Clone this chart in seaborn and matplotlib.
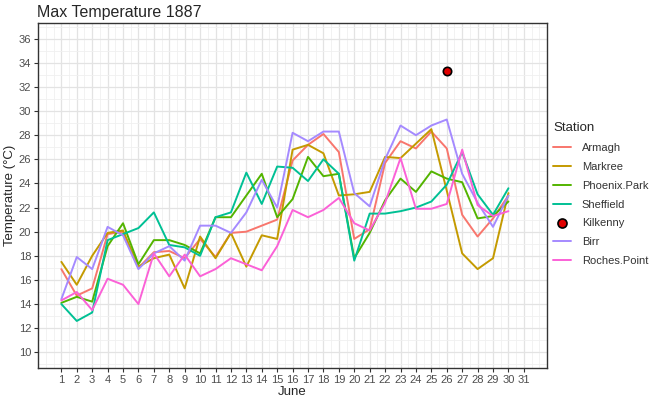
import matplotlib
matplotlib.use("Agg")
import matplotlib.pyplot as plt
from matplotlib.lines import Line2D
from matplotlib.ticker import MultipleLocator
import numpy as np
import pandas as pd
import seaborn as sns

days = list(range(1, 31))

armagh = [16.9, 14.7, 15.3, 19.8, 20.0, 17.0, 18.3, 18.4, 17.8, 19.4,
          17.9, 19.9, 20.0, 20.5, 21.0, 25.9, 27.2, 28.1, 26.6, 19.4,
          20.2, 25.7, 27.5, 26.9, 28.3, 26.9, 21.4, 19.6, 21.1, 23.0]
markree = [17.5, 15.6, 18.0, 19.9, 20.1, 17.1, 17.8, 18.1, 15.3, 19.6,
           17.8, 19.9, 17.1, 19.7, 19.4, 26.8, 27.2, 26.5, 23.0, 23.1,
           23.3, 26.2, 26.1, 27.3, 28.5, 23.4, 18.2, 16.9, 17.8, 23.2]
phoenix_park = [14.1, 14.6, 14.2, 18.8, 20.7, 17.3, 19.3, 19.3, 18.9, 18.2,
                21.2, 21.2, 23.0, 24.8, 21.2, 22.7, 26.2, 24.6, 24.8, 17.8,
                19.9, 22.6, 24.4, 23.3, 25.0, 24.4, 24.1, 21.1, 21.3, 22.5]
sheffield = [14.0, 12.6, 13.3, 19.3, 19.8, 20.3, 21.6, 18.9, 18.7, 18.0,
             21.2, 21.6, 24.9, 22.3, 25.4, 25.3, 24.2, 26.0, 24.8, 17.6,
             21.5, 21.5, 21.7, 22.0, 22.5, 23.9, 26.6, 23.1, 21.4, 23.6]
birr = [14.4, 17.9, 16.9, 20.4, 19.7, 16.9, 18.2, 18.8, 17.6, 20.5,
        20.5, 19.9, 21.6, 24.3, 22.0, 28.2, 27.5, 28.3, 28.3, 23.2,
        22.1, 26.0, 28.8, 28.0, 28.8, 29.3, 24.8, 22.4, 20.4, 23.0]
roches_point = [14.3, 15.0, 13.5, 16.1, 15.6, 14.0, 18.2, 16.3, 18.1, 16.3,
                16.9, 17.8, 17.3, 16.8, 18.8, 21.8, 21.2, 21.8, 22.8, 20.7,
                20.1, 22.4, 26.1, 21.9, 21.9, 22.3, 26.8, 22.2, 21.3, 21.7]
kilkenny_day = [26]
kilkenny = [33.3]

stations = ["Armagh", "Markree", "Phoenix.Park", "Sheffield", "Kilkenny", "Birr", "Roches.Point"]
colors = ["#F8766D", "#C49A00", "#53B400", "#00C094", "#FF0000", "#A58AFF", "#FB61D7"]
line_series = {"Armagh": armagh, "Markree": markree, "Phoenix.Park": phoenix_park,
               "Sheffield": sheffield, "Birr": birr, "Roches.Point": roches_point}

rows = []
for name, vals in line_series.items():
    for d, v in zip(days, vals):
        rows.append({"Day": d, "Temp": v, "Station": name})
df = pd.DataFrame(rows)
kil = pd.DataFrame({"Day": kilkenny_day, "Temp": kilkenny, "Station": "Kilkenny"})
palette = dict(zip(stations, colors))

sns.set_style("white")
plt.rcParams["font.family"] = ["Liberation Sans", "DejaVu Sans"]

fig, ax = plt.subplots(figsize=(6.59, 4.0), dpi=100)
fig.subplots_adjust(left=0.058, right=0.830, top=0.9425, bottom=0.08)

sns.lineplot(data=df, x="Day", y="Temp", hue="Station", palette=palette,
             linewidth=1.4, ax=ax, legend=False, zorder=3)
sns.scatterplot(data=kil, x="Day", y="Temp", color="#E00000", edgecolor="black",
                linewidth=1.2, s=36, ax=ax, legend=False, zorder=4)

ax.set_xlim(-0.5, 32.5)
ax.set_ylim(8.7, 37.3)
ax.set_xticks(range(1, 32))
ax.set_yticks(range(10, 37, 2))
ax.xaxis.set_minor_locator(MultipleLocator(0.5))
ax.yaxis.set_minor_locator(MultipleLocator(1))
ax.grid(which="major", color="#E3E3E3", linewidth=0.9, zorder=0)
ax.grid(which="minor", color="#F0F0F0", linewidth=0.6, zorder=0)
ax.set_axisbelow(True)
for s in ax.spines.values():
    s.set_color("#333333")
    s.set_linewidth(1.0)
ax.tick_params(which="major", length=3, color="#333333", labelcolor="#4D4D4D",
               labelsize=8, pad=2, bottom=True, left=True)
ax.tick_params(which="minor", length=0)

ax.set_xlabel("June", fontsize=9.5, labelpad=1)
ax.set_ylabel("Temperature (°C)", fontsize=9.5, labelpad=2)
ax.set_title("Max Temperature 1887", fontsize=11.5, loc="left", x=-0.003, pad=4)

handles = []
for name, c in zip(stations, colors):
    if name == "Kilkenny":
        handles.append(Line2D([], [], linestyle="none", marker="o", markersize=6.5,
                              markerfacecolor="#E00000", markeredgecolor="black",
                              markeredgewidth=1.2))
    else:
        handles.append(Line2D([], [], color=c, linewidth=1.4))
leg = fig.legend(handles, stations, title="Station", loc="upper left",
                 bbox_to_anchor=(0.824, 0.72), frameon=False, fontsize=8,
                 title_fontsize=9.5, handlelength=1.6, labelspacing=0.8,
                 handletextpad=1.0, alignment="left")
for t in leg.get_texts():
    t.set_color("#333333")

fig.savefig("out.png", dpi=100)
